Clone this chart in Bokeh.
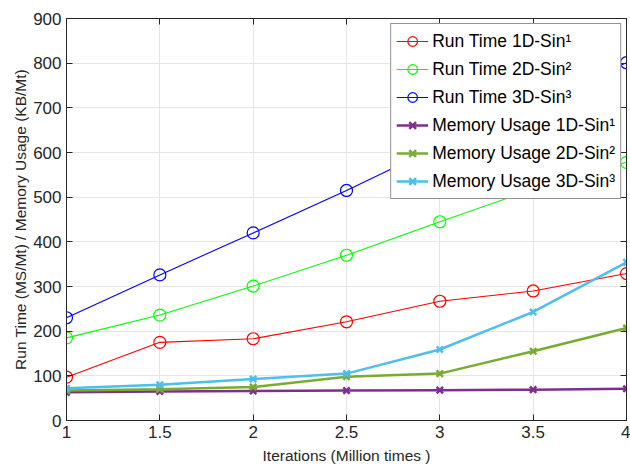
from bokeh.plotting import figure
from bokeh.models import LinearAxis, FixedTicker, Legend, LegendItem, Range1d
from bokeh.embed import file_html
from bokeh.resources import INLINE

iterations = [1, 1.5, 2, 2.5, 3, 3.5, 4]
run_1d = [97, 175, 183, 221, 267, 290, 329]
run_2d = [185, 236, 301, 370, 445, 518, 578]
run_3d = [230, 326, 420, 515, 615, 708, 801]
mem_1d = [63, 65, 66, 67, 68, 69, 71]
mem_2d = [67, 70, 75, 98, 105, 155, 207]
mem_3d = [72, 80, 93, 105, 159, 243, 354]

x_ticks = [1, 1.5, 2, 2.5, 3, 3.5, 4]
y_ticks = [0, 100, 200, 300, 400, 500, 600, 700, 800, 900]

FONT = "Liberation Sans"
INK = "#262626"

p = figure(width=630, height=469, output_backend="svg", toolbar_location=None,
           x_range=Range1d(1, 4), y_range=Range1d(0, 900),
           min_border_left=66, min_border_right=4, min_border_top=18, min_border_bottom=49)
p.background_fill_color = "white"
p.border_fill_color = "white"
p.outline_line_color = INK
p.outline_line_width = 1

p.xgrid.grid_line_color = "#e6e6e6"
p.ygrid.grid_line_color = "#e6e6e6"

for ax in p.xaxis:
    ax.ticker = FixedTicker(ticks=x_ticks)
    ax.major_label_overrides = {t: f"{t:g}" for t in x_ticks}
    ax.axis_label = "Iterations (Million times )"
    ax.axis_label_standoff = 6
for ax in p.yaxis:
    ax.ticker = FixedTicker(ticks=y_ticks)
    ax.axis_label = "Run Time (MS/Mt) / Memory Usage (KB/Mt)"
    ax.axis_label_standoff = 1

for ax in list(p.xaxis) + list(p.yaxis):
    ax.axis_line_color = INK
    ax.major_tick_line_color = INK
    ax.major_tick_in = 6
    ax.major_tick_out = 0
    ax.minor_tick_line_color = None
    ax.major_label_text_font = FONT
    ax.major_label_text_font_size = "17px"
    ax.major_label_text_color = INK
    ax.axis_label_text_font = FONT
    ax.axis_label_text_font_size = "15.5px"
    ax.axis_label_text_font_style = "normal"
    ax.axis_label_text_color = INK
    ax.major_label_standoff = 5

# mirrored tick marks on the top and right edges
for loc, tks in (("above", x_ticks), ("right", y_ticks)):
    a = LinearAxis(ticker=FixedTicker(ticks=tks),
                   major_label_overrides={t: "" for t in tks},
                   major_tick_in=6, major_tick_out=0, minor_tick_line_color=None,
                   axis_line_color=INK, major_tick_line_color=INK)
    p.add_layout(a, loc)

series = [
    ("Run Time 1D-Sin¹", run_1d, "#ff0000", "circle", 1.1, 12),
    ("Run Time 2D-Sin²", run_2d, "#00ff00", "circle", 1.1, 12),
    ("Run Time 3D-Sin³", run_3d, "#0000ff", "circle", 1.1, 12),
    ("Memory Usage 1D-Sin¹", mem_1d, "#7e2f8e", "x", 2.5, 9),
    ("Memory Usage 2D-Sin²", mem_2d, "#77ac30", "x", 2.5, 9),
    ("Memory Usage 3D-Sin³", mem_3d, "#4dbeee", "x", 2.5, 9),
]

items = []
for label, ys, color, marker, lw, size in series:
    ln = p.line(iterations, ys, line_color=color, line_width=lw)
    sc = p.scatter(iterations, ys, marker=marker, size=size, line_color=color,
                   fill_color=None, line_width=1.2 if marker == "circle" else 2.5)
    items.append(LegendItem(label=label, renderers=[ln, sc]))

legend = Legend(items=items, location="top_right")
legend.label_text_font = FONT
legend.label_text_font_size = "17.5px"
legend.label_text_color = "#000000"
legend.border_line_color = INK
legend.border_line_width = 1
legend.background_fill_alpha = 1.0
legend.glyph_width = 32
legend.label_standoff = 4
legend.spacing = 4
legend.padding = 5
legend.margin = 5
legend.label_height = 24
legend.glyph_height = 24
p.add_layout(legend, "center")

open("out.html", "w").write(file_html(p, INLINE))
